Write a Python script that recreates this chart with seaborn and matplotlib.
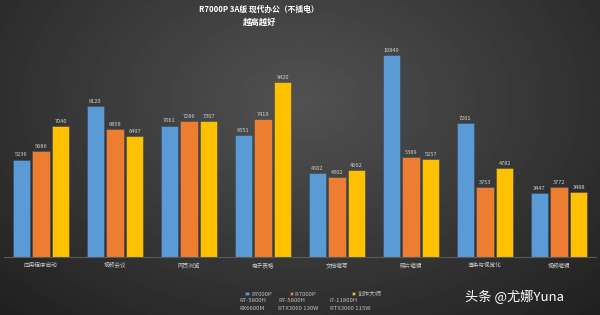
import numpy as np
import pandas as pd
import matplotlib
matplotlib.use("Agg")
import matplotlib.pyplot as plt
import seaborn as sns

categories = ["应用程序启动", "视频会议", "网页浏览", "电子表格", "文档编写", "照片编辑", "渲染与视觉化", "视频编辑"]
series = ["R7000P RX6600M", "R7000P RTX3060", "创作大师"]
legend_first = ["R7000P", "R7000P\u2003\u2003\u2003", "创作大师"]
series_sub = [["R7-5800H", "RX6600M"], ["R7-5800H", "RTX3060 130W"], ["i7-11800H", "RTX3060 115W"]]
r7000p_rx = [5236, 8120, 7061, 6551, 4502, 10849, 7201, 3447]
r7000p_rtx = [5686, 6858, 7286, 7419, 4302, 5389, 3753, 3772]
chuangzuo = [7040, 6497, 7307, 9420, 4662, 5257, 4782, 3488]
colors = ["#5B9BD5", "#ED7D31", "#FFC000"]

df = pd.DataFrame({
    "cat": categories * 3,
    "model": [series[0]] * 8 + [series[1]] * 8 + [series[2]] * 8,
    "score": r7000p_rx + r7000p_rtx + chuangzuo,
})

sns.set_theme(style="dark")
plt.rcParams["font.family"] = ["Noto Sans CJK SC", "DejaVu Sans"]

fig = plt.figure(figsize=(6, 3.15), dpi=100)

# dark radial background
bg = fig.add_axes([0, 0, 1, 1])
yy, xx = np.mgrid[0:315, 0:600]
r = np.sqrt(((xx - 300) / 380.0) ** 2 + ((yy - 100) / 260.0) ** 2)
val = np.clip(0.32 - 0.17 * r, 0.1, 1)
bg.imshow(val, cmap="gray", vmin=0, vmax=1, aspect="auto", extent=[0, 1, 0, 1], origin="upper")
bg.axis("off")

ax = fig.add_axes([4 / 600, 58 / 315, 592 / 600, 217 / 315])
ax.patch.set_alpha(0)
sns.barplot(data=df, x="cat", y="score", hue="model", palette=colors, ax=ax, saturation=1,
            width=0.8, gap=0.13, edgecolor="#3a4a5a", linewidth=0.4, legend=True)
ax.set_ylim(0, 11654)
ax.set_xlim(-0.5, 7.5)
for c in ax.containers:
    ax.bar_label(c, fontsize=4.1, color="#cfcfcf", padding=1.5)

ax.set_xlabel("")
ax.set_ylabel("")
ax.set_yticks([])
ax.tick_params(axis="x", colors="#c8c8c8", labelsize=4.1, length=0, pad=4)
ax.grid(False)
for s in ["top", "right", "left"]:
    ax.spines[s].set_visible(False)
ax.spines["bottom"].set_color("#5a5a5a")
ax.spines["bottom"].set_linewidth(0.8)

handles, _ = ax.get_legend_handles_labels()
leg = ax.legend(handles, legend_first, loc="center left", bbox_to_anchor=(236 / 592, -37 / 217),
                ncol=3, frameon=False, fontsize=4.3, labelcolor="#c0c0c0", handlelength=0.6,
                handleheight=0.6, handletextpad=0.35, columnspacing=3.0)

# second and third lines of the legend entries
sub_x = [239.5, 278, 329.5]
for x, lines in zip(sub_x, series_sub):
    for k, line in enumerate(lines):
        fig.text(x / 600, 1 - (301 + 7.6 * k) / 315, line, color="#c0c0c0", fontsize=4.3,
                 ha="left", va="center")

fig.text(0.432, 0.971, "R7000P 3A版 现代办公（不插电）", color="white", fontsize=5.6,
         fontweight="bold", ha="center", va="center")
fig.text(0.432, 0.929, "越高越好", color="white", fontsize=6, fontweight="bold",
         ha="center", va="center")
fig.text(0.857, 0.057, "头条 @尤娜Yuna", color="white", fontsize=9.5, ha="center", va="center")

fig.savefig("out.png", dpi=100)
